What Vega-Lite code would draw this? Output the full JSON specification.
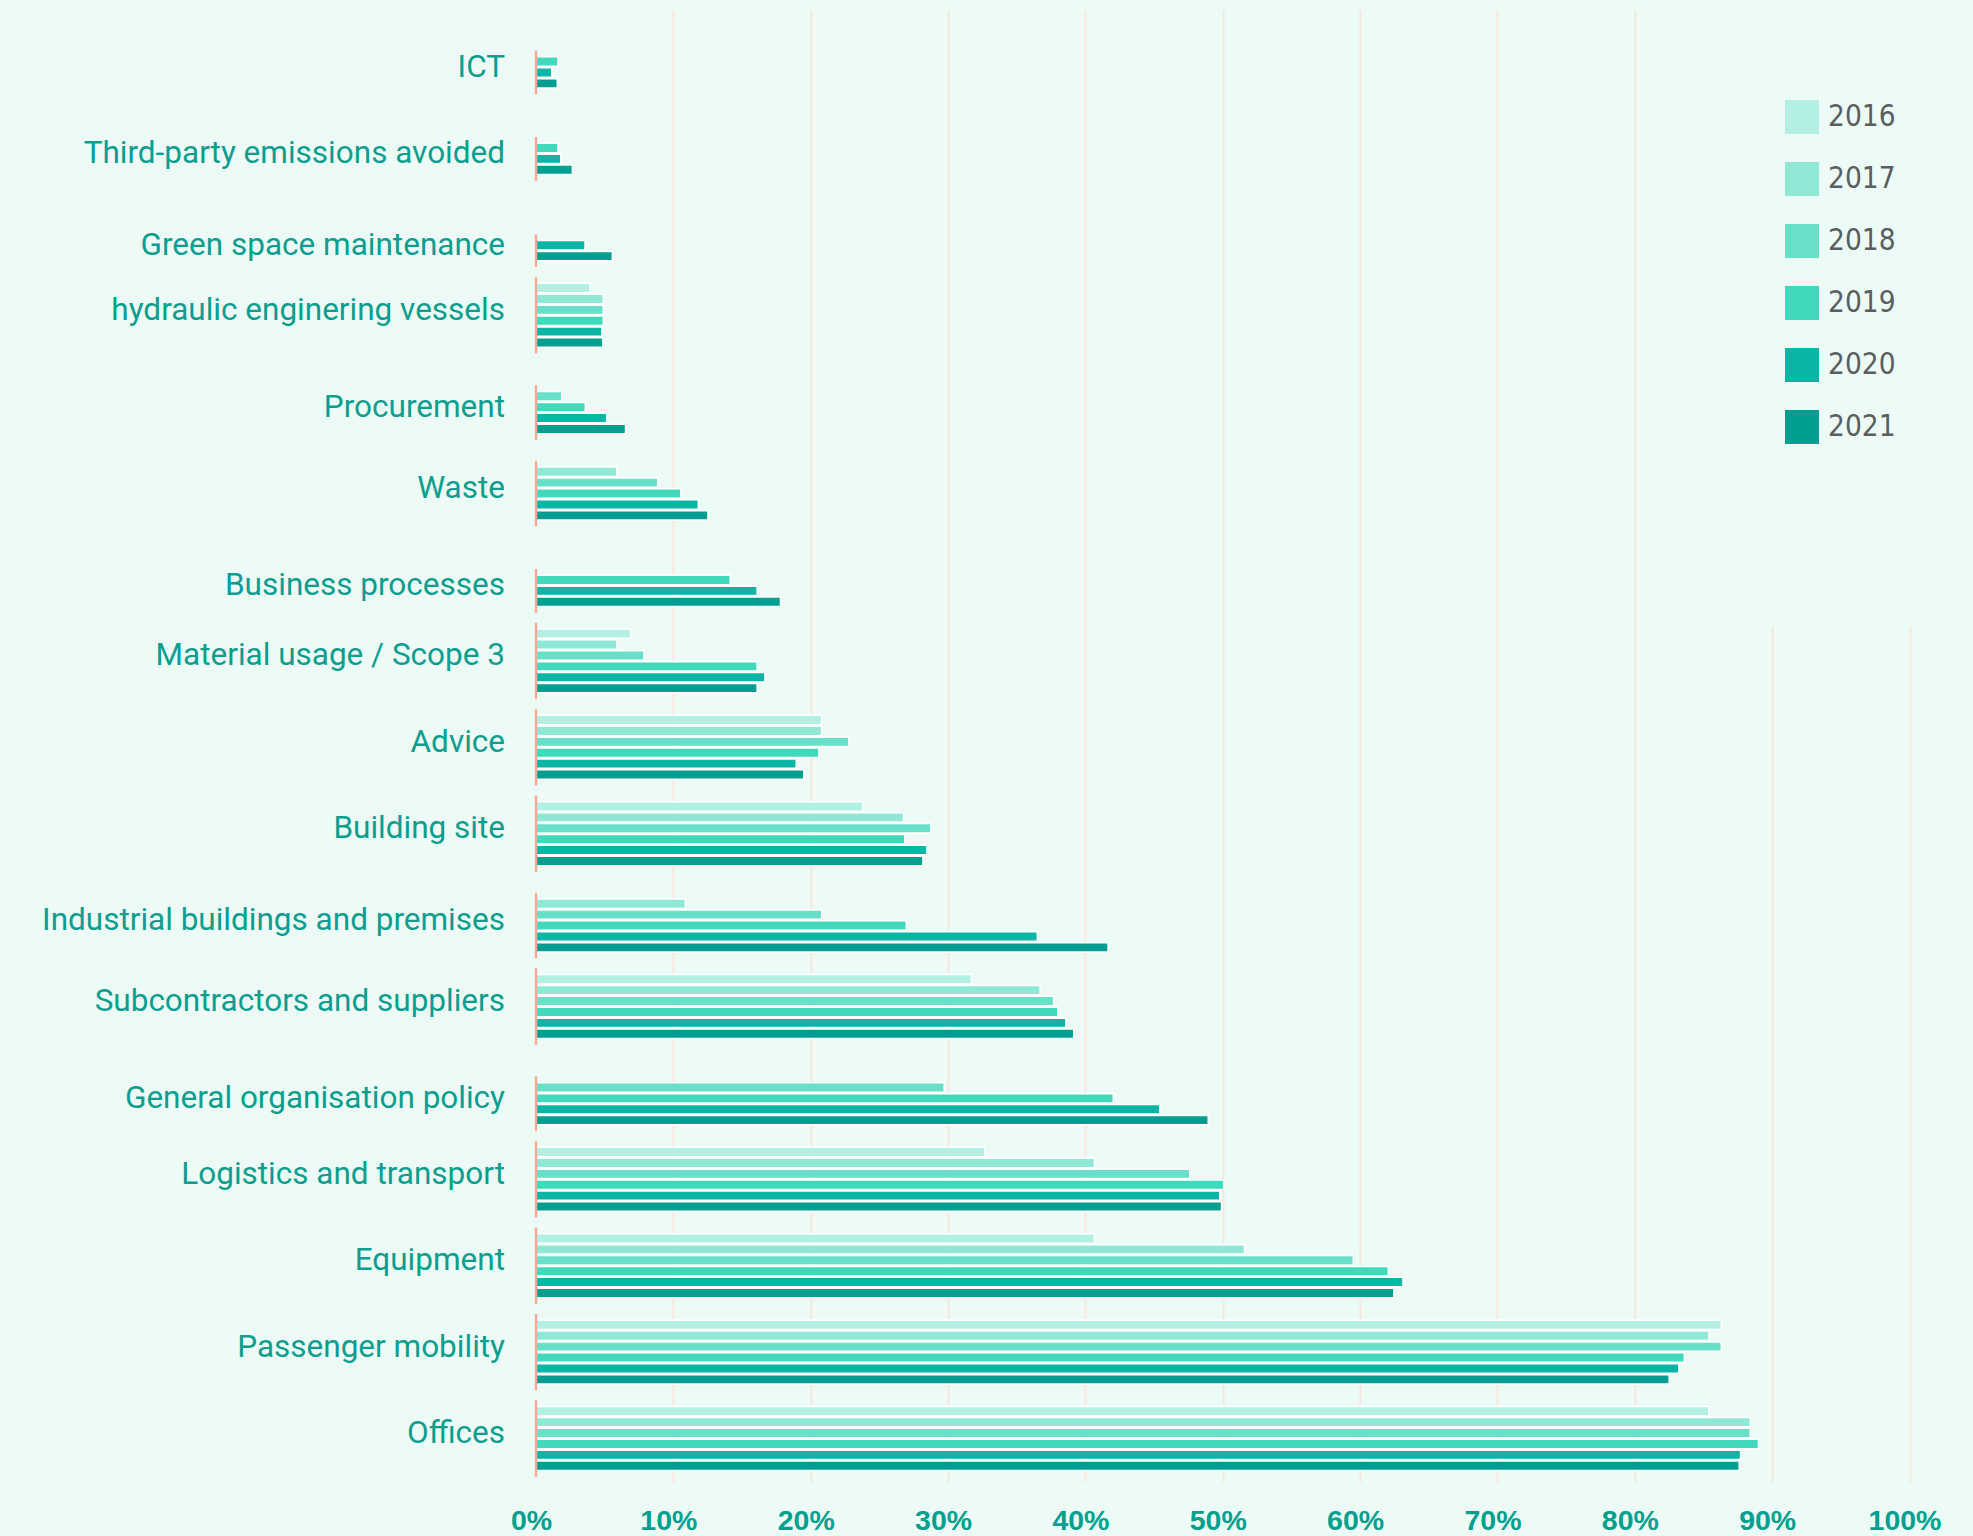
{
  "$schema": "https://vega.github.io/schema/vega-lite/v6.json",
  "autosize": "none",
  "width": 1373.5,
  "height": 1472,
  "padding": {"left": 536, "top": 9.5, "right": 63.5, "bottom": 54.5},
  "background": "#edfbf7",
  "config": {"view": {"stroke": null}},
  "data": {
    "values": [
      {"category": "ICT", "year": 2019, "value": 1.6},
      {"category": "ICT", "year": 2020, "value": 1.15},
      {"category": "ICT", "year": 2021, "value": 1.55},
      {"category": "Third-party emissions avoided", "year": 2019, "value": 1.6},
      {"category": "Third-party emissions avoided", "year": 2020, "value": 1.8},
      {"category": "Third-party emissions avoided", "year": 2021, "value": 2.65},
      {"category": "Green space maintenance", "year": 2020, "value": 3.57},
      {"category": "Green space maintenance", "year": 2021, "value": 5.56},
      {"category": "hydraulic enginering vessels", "year": 2016, "value": 3.93},
      {"category": "hydraulic enginering vessels", "year": 2017, "value": 4.9},
      {"category": "hydraulic enginering vessels", "year": 2018, "value": 4.9},
      {"category": "hydraulic enginering vessels", "year": 2019, "value": 4.9},
      {"category": "hydraulic enginering vessels", "year": 2020, "value": 4.8},
      {"category": "hydraulic enginering vessels", "year": 2021, "value": 4.87},
      {"category": "Procurement", "year": 2018, "value": 1.87},
      {"category": "Procurement", "year": 2019, "value": 3.59},
      {"category": "Procurement", "year": 2020, "value": 5.15},
      {"category": "Procurement", "year": 2021, "value": 6.52},
      {"category": "Waste", "year": 2017, "value": 5.87},
      {"category": "Waste", "year": 2018, "value": 8.86},
      {"category": "Waste", "year": 2019, "value": 10.55},
      {"category": "Waste", "year": 2020, "value": 11.82},
      {"category": "Waste", "year": 2021, "value": 12.52},
      {"category": "Business processes", "year": 2019, "value": 14.14},
      {"category": "Business processes", "year": 2020, "value": 16.1},
      {"category": "Business processes", "year": 2021, "value": 17.8},
      {"category": "Material usage / Scope 3", "year": 2016, "value": 6.89},
      {"category": "Material usage / Scope 3", "year": 2017, "value": 5.9},
      {"category": "Material usage / Scope 3", "year": 2018, "value": 7.86},
      {"category": "Material usage / Scope 3", "year": 2019, "value": 16.1},
      {"category": "Material usage / Scope 3", "year": 2020, "value": 16.67},
      {"category": "Material usage / Scope 3", "year": 2021, "value": 16.1},
      {"category": "Advice", "year": 2016, "value": 20.79},
      {"category": "Advice", "year": 2017, "value": 20.79},
      {"category": "Advice", "year": 2018, "value": 22.78},
      {"category": "Advice", "year": 2019, "value": 20.6},
      {"category": "Advice", "year": 2020, "value": 18.95},
      {"category": "Advice", "year": 2021, "value": 19.5},
      {"category": "Building site", "year": 2016, "value": 23.78},
      {"category": "Building site", "year": 2017, "value": 26.76},
      {"category": "Building site", "year": 2018, "value": 28.75},
      {"category": "Building site", "year": 2019, "value": 26.86},
      {"category": "Building site", "year": 2020, "value": 28.46},
      {"category": "Building site", "year": 2021, "value": 28.17},
      {"category": "Industrial buildings and premises", "year": 2017, "value": 10.87},
      {"category": "Industrial buildings and premises", "year": 2018, "value": 20.8},
      {"category": "Industrial buildings and premises", "year": 2019, "value": 26.96},
      {"category": "Industrial buildings and premises", "year": 2020, "value": 36.5},
      {"category": "Industrial buildings and premises", "year": 2021, "value": 41.65},
      {"category": "Subcontractors and suppliers", "year": 2016, "value": 31.7},
      {"category": "Subcontractors and suppliers", "year": 2017, "value": 36.7},
      {"category": "Subcontractors and suppliers", "year": 2018, "value": 37.69},
      {"category": "Subcontractors and suppliers", "year": 2019, "value": 37.99},
      {"category": "Subcontractors and suppliers", "year": 2020, "value": 38.58},
      {"category": "Subcontractors and suppliers", "year": 2021, "value": 39.15},
      {"category": "General organisation policy", "year": 2018, "value": 29.72},
      {"category": "General organisation policy", "year": 2019, "value": 42.03},
      {"category": "General organisation policy", "year": 2020, "value": 45.42},
      {"category": "General organisation policy", "year": 2021, "value": 48.94},
      {"category": "Logistics and transport", "year": 2016, "value": 32.69},
      {"category": "Logistics and transport", "year": 2017, "value": 40.66},
      {"category": "Logistics and transport", "year": 2018, "value": 47.6},
      {"category": "Logistics and transport", "year": 2019, "value": 50.08},
      {"category": "Logistics and transport", "year": 2020, "value": 49.79},
      {"category": "Logistics and transport", "year": 2021, "value": 49.91},
      {"category": "Equipment", "year": 2016, "value": 40.66},
      {"category": "Equipment", "year": 2017, "value": 51.59},
      {"category": "Equipment", "year": 2018, "value": 59.5},
      {"category": "Equipment", "year": 2019, "value": 62.05},
      {"category": "Equipment", "year": 2020, "value": 63.12},
      {"category": "Equipment", "year": 2021, "value": 62.46},
      {"category": "Passenger mobility", "year": 2016, "value": 86.3},
      {"category": "Passenger mobility", "year": 2017, "value": 85.4},
      {"category": "Passenger mobility", "year": 2018, "value": 86.3},
      {"category": "Passenger mobility", "year": 2019, "value": 83.6},
      {"category": "Passenger mobility", "year": 2020, "value": 83.2},
      {"category": "Passenger mobility", "year": 2021, "value": 82.5},
      {"category": "Offices", "year": 2016, "value": 85.4},
      {"category": "Offices", "year": 2017, "value": 88.4},
      {"category": "Offices", "year": 2018, "value": 88.4},
      {"category": "Offices", "year": 2019, "value": 89.0},
      {"category": "Offices", "year": 2020, "value": 87.7},
      {"category": "Offices", "year": 2021, "value": 87.6}
    ]
  },
  "layer": [
    {
      "mark": {"type": "bar", "size": 9.4, "stroke": "white", "strokeWidth": 1.5},
      "encoding": {
        "y": {
          "field": "category", "type": "nominal", "axis": null,
          "sort": ["ICT", "Third-party emissions avoided", "Green space maintenance", "hydraulic enginering vessels", "Procurement", "Waste", "Business processes", "Material usage / Scope 3", "Advice", "Building site", "Industrial buildings and premises", "Subcontractors and suppliers", "General organisation policy", "Logistics and transport", "Equipment", "Passenger mobility", "Offices"],
          "scale": {"paddingInner": 0.2431, "paddingOuter": 0.14, "align": 0.574}
        },
        "yOffset": {"field": "year", "type": "quantitative", "scale": {"domain": [2015.5, 2021.5], "range": [0, 65.4], "zero": false, "nice": false}},
        "x": {
          "field": "value", "type": "quantitative",
          "scale": {"domain": [0, 100], "nice": false},
          "axis": {
            "title": null, "values": [0, 10, 20, 30, 40, 50, 60, 70, 80, 90, 100],
            "labelExpr": "datum.value + '%'",
            "domain": false, "ticks": false, "labelFlush": false, "labelOffset": -5,
            "labelFont": "Liberation Sans", "labelFontWeight": "bold", "labelFontSize": 28.5,
            "labelColor": "#00a08f", "labelPadding": 24.5,
            "grid": true, "gridWidth": 2,
            "gridColor": {"condition": {"test": "datum.value === 0", "value": "transparent"}, "value": "#f8e6e0"}
          }
        },
        "color": {
          "field": "year", "type": "ordinal",
          "scale": {"domain": [2016, 2017, 2018, 2019, 2020, 2021], "range": ["#b3f0e3", "#8fe8d6", "#68e0c8", "#40d9bb", "#0ab5a5", "#009e91"]},
          "legend": {
            "orient": "none", "direction": "vertical", "legendX": 1158, "legendY": -0.5,
            "title": " ", "titleOrient": "bottom", "titlePadding": 80, "titleFontSize": 11,
            "padding": 91, "fillColor": "#edfbf7",
            "symbolType": "square", "symbolSize": 1156, "symbolStrokeWidth": 0, "symbolOpacity": 1,
            "labelFont": "DejaVu Sans Condensed, sans-serif", "labelFontSize": 29.5,
            "labelColor": "#595e5e", "labelOffset": 9, "rowPadding": 28
          }
        }
      }
    },
    {
      "transform": [{"aggregate": [{"op": "mean", "field": "year", "as": "mid"}, {"op": "count", "as": "n"}], "groupby": ["category"]}],
      "mark": {"type": "tick", "thickness": 2.4, "color": "#f6a896", "opacity": 1},
      "encoding": {
        "y": {
          "field": "category", "type": "nominal",
          "sort": ["ICT", "Third-party emissions avoided", "Green space maintenance", "hydraulic enginering vessels", "Procurement", "Waste", "Business processes", "Material usage / Scope 3", "Advice", "Building site", "Industrial buildings and premises", "Subcontractors and suppliers", "General organisation policy", "Logistics and transport", "Equipment", "Passenger mobility", "Offices"]
        },
        "yOffset": {"field": "mid", "type": "quantitative", "scale": {"domain": [2015.5, 2021.5], "range": [0, 65.4], "zero": false, "nice": false}},
        "x": {"datum": 0},
        "size": {"field": "n", "type": "quantitative", "scale": {"domain": [0, 6], "range": [11, 76.4]}, "legend": null}
      }
    },
    {
      "transform": [{"aggregate": [{"op": "mean", "field": "year", "as": "mid"}, {"op": "count", "as": "n"}], "groupby": ["category"]}],
      "mark": {"type": "text", "align": "right", "baseline": "middle", "dx": -31, "dy": -4.5, "font": "Roboto", "fontSize": 31.5, "color": "#0b9e8f"},
      "encoding": {
        "y": {
          "field": "category", "type": "nominal",
          "sort": ["ICT", "Third-party emissions avoided", "Green space maintenance", "hydraulic enginering vessels", "Procurement", "Waste", "Business processes", "Material usage / Scope 3", "Advice", "Building site", "Industrial buildings and premises", "Subcontractors and suppliers", "General organisation policy", "Logistics and transport", "Equipment", "Passenger mobility", "Offices"]
        },
        "yOffset": {"field": "mid", "type": "quantitative", "scale": {"domain": [2015.5, 2021.5], "range": [0, 65.4], "zero": false, "nice": false}},
        "x": {"datum": 0},
        "text": {"field": "category"}
      }
    }
  ]
}
